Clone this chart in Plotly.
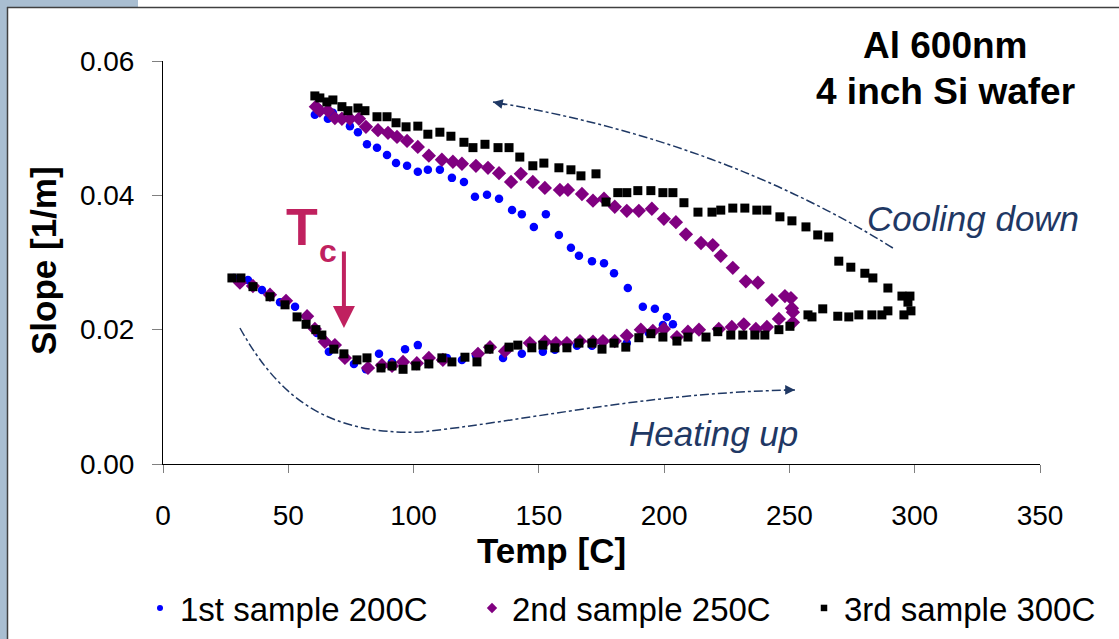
import plotly.graph_objects as go

# ---------------- data ----------------
s1_temp = [28.3, 33.9, 39.5, 46.7, 52.7, 61.4, 66.2, 72.2, 76.2, 81.0, 86.2, 91.4, 96.6, 101.7, 106.1,
           113.3, 119.3, 124.9, 135.7, 143.2, 151.6, 156.4, 165.2, 171.2, 175.2, 185.1, 193.9, 199.5,
           203.5, 201.1, 196.3, 191.5, 185.5, 180.0, 176.0, 171.2, 166.0, 162.8, 158.0, 152.8, 148.0,
           143.2, 139.3, 134.1, 129.3, 124.5, 120.1, 115.3, 110.5, 105.7, 101.7, 97.4, 93.0, 89.4,
           85.4, 81.4, 77.8, 74.6, 67.8, 65.8, 60.6]
s1_slope = [0.0277, 0.0274, 0.0259, 0.0241, 0.0234, 0.0195, 0.0167, 0.0159, 0.0149, 0.0141, 0.0164,
            0.0152, 0.0171, 0.0177, 0.0149, 0.0158, 0.0155, 0.0162, 0.0158, 0.0164, 0.0167, 0.0170,
            0.0176, 0.0176, 0.0182, 0.0180, 0.0195, 0.0207, 0.0208, 0.0219, 0.0231, 0.0234, 0.0262,
            0.0284, 0.0299, 0.0302, 0.0310, 0.0322, 0.0341, 0.0372, 0.0353, 0.0372, 0.0378, 0.0395,
            0.0401, 0.0398, 0.0420, 0.0426, 0.0438, 0.0438, 0.0435, 0.0444, 0.0448, 0.0460, 0.0471,
            0.0476, 0.0494, 0.0503, 0.0523, 0.0514, 0.0520]

s2_temp = [30.7, 35.9, 42.7, 49.1, 57.5, 60.6, 64.6, 68.6, 72.6, 81.8, 87.4, 91.4, 95.8, 101.3, 106.1,
           111.7, 125.7, 130.5, 136.5, 146.4, 152.4, 156.8, 161.2, 166.4, 171.6, 175.6, 180.3, 185.1,
           190.7, 195.5, 199.9, 205.1, 209.5, 213.9, 221.8, 227.0, 231.8, 236.6, 241.0, 245.8, 251.4,
           251.4, 251.0, 250.6, 248.2, 243.0, 237.4, 232.6, 227.4, 222.6, 219.4, 214.7, 208.7, 204.7,
           199.9, 195.1, 189.9, 185.1, 180.3, 176.0, 171.6, 167.2, 161.6, 158.4, 152.4, 147.6, 142.8,
           138.9, 134.1, 129.7, 124.9, 119.3, 115.7, 111.3, 106.1, 101.7, 97.4, 93.4, 89.8, 85.8,
           81.0, 78.2, 74.6, 71.4, 68.6, 65.8, 62.6, 61.0]
s2_slope = [0.0270, 0.0265, 0.0252, 0.0243, 0.0220, 0.0201, 0.0182, 0.0177, 0.0158, 0.0143, 0.0147,
            0.0146, 0.0152, 0.0150, 0.0158, 0.0155, 0.0164, 0.0174, 0.0168, 0.0180, 0.0182, 0.0180,
            0.0180, 0.0183, 0.0182, 0.0183, 0.0183, 0.0191, 0.0200, 0.0198, 0.0201, 0.0189, 0.0197,
            0.0200, 0.0201, 0.0204, 0.0208, 0.0201, 0.0204, 0.0216, 0.0226, 0.0211, 0.0232, 0.0247,
            0.0250, 0.0244, 0.0270, 0.0272, 0.0292, 0.0310, 0.0326, 0.0329, 0.0342, 0.0360, 0.0365,
            0.0380, 0.0377, 0.0377, 0.0383, 0.0395, 0.0392, 0.0402, 0.0408, 0.0408, 0.0411, 0.0420,
            0.0432, 0.0420, 0.0433, 0.0441, 0.0444, 0.0447, 0.0450, 0.0453, 0.0459, 0.0472, 0.0481,
            0.0487, 0.0493, 0.0497, 0.0502, 0.0514, 0.0514, 0.0514, 0.0515, 0.0526, 0.0526, 0.0532]

s3_temp = [27.5, 31.1, 35.9, 42.7, 48.7, 53.5, 57.1, 61.0, 63.4, 68.2, 72.2, 77.4, 81.4, 87.0, 91.4,
           95.8, 100.9, 106.1, 111.3, 115.3, 120.5, 125.3, 130.1, 138.1, 141.6, 147.2, 151.6, 156.4,
           161.2, 166.0, 171.2, 175.2, 180.0, 184.7, 189.9, 194.7, 199.5, 205.1, 209.5, 216.7, 221.4,
           226.6, 231.4, 236.2, 240.2, 245.8, 250.2, 257.4, 259.0, 263.3, 269.3, 273.7, 277.7, 282.9,
           286.9, 289.3, 295.7, 298.5,
           297.3, 298.1, 294.9, 289.3, 283.3, 280.1, 274.5, 269.7, 265.7, 261.3, 256.6, 251.0, 246.2,
           241.0, 237.0, 232.2, 227.4, 222.6, 219.1, 213.5, 207.9, 203.5, 199.5, 194.7, 189.5, 185.1,
           181.5, 176.8, 172.8, 166.8, 162.8, 158.0, 152.0, 147.6, 142.4, 138.1, 133.7, 128.5, 123.7,
           120.1, 114.9, 110.5, 105.7, 101.7, 97.0, 93.0, 89.4, 85.4, 80.6, 77.8, 73.8, 71.4, 67.8,
           65.4, 62.6, 60.6]
s3_slope = [0.0277, 0.0277, 0.0264, 0.0249, 0.0237, 0.0219, 0.0208, 0.0200, 0.0192, 0.0171, 0.0164,
            0.0155, 0.0158, 0.0143, 0.0146, 0.0141, 0.0146, 0.0149, 0.0158, 0.0152, 0.0159, 0.0152,
            0.0171, 0.0174, 0.0177, 0.0173, 0.0177, 0.0173, 0.0173, 0.0180, 0.0180, 0.0171, 0.0180,
            0.0174, 0.0188, 0.0194, 0.0189, 0.0183, 0.0189, 0.0189, 0.0197, 0.0192, 0.0192, 0.0192,
            0.0192, 0.0200, 0.0205, 0.0222, 0.0219, 0.0231, 0.0220, 0.0219, 0.0222, 0.0222, 0.0222,
            0.0228, 0.0222, 0.0228,
            0.0241, 0.0250, 0.0250, 0.0262, 0.0277, 0.0284, 0.0293, 0.0302, 0.0338, 0.0341, 0.0353,
            0.0362, 0.0368, 0.0378, 0.0378, 0.0381, 0.0381, 0.0378, 0.0375, 0.0375, 0.0389, 0.0404,
            0.0404, 0.0407, 0.0407, 0.0404, 0.0404, 0.0390, 0.0432, 0.0429, 0.0438, 0.0441, 0.0448,
            0.0444, 0.0457, 0.0471, 0.0471, 0.0476, 0.0471, 0.0479, 0.0488, 0.0494, 0.0491, 0.0503,
            0.0502, 0.0508, 0.0517, 0.0517, 0.0526, 0.0530, 0.0526, 0.0532, 0.0542, 0.0539, 0.0545,
            0.0548]

series_names = ["1st sample 200C", "2nd sample 250C", "3rd sample 300C"]
x_ticks = [0, 50, 100, 150, 200, 250, 300, 350]
y_ticks = [0.00, 0.02, 0.04, 0.06]
y_tick_labels = ["0.00", "0.02", "0.04", "0.06"]

# ---------------- figure ----------------
W, H = 1119, 639
ML, MR, MT, MB = 163, 79, 61, 175
PW, PH = W - ML - MR, H - MT - MB
FONT = "Liberation Sans, Arial, sans-serif"
NAVY = "#1F3864"
CRIMSON = "#C0215F"


def px(x):
    return (x - ML) / PW


def py(y):
    return (H - MB - y) / PH


series_styles = [
    dict(symbol="circle", size=8.5, color="#0000FF", legend_size=6),
    dict(symbol="diamond", size=11, color="#800080", legend_size=8),
    dict(symbol="square", size=9, color="#000000", legend_size=6.5),
]
series_data = [(s1_temp, s1_slope), (s2_temp, s2_slope), (s3_temp, s3_slope)]

fig = go.Figure()
for name, (xs, ys), st in zip(series_names, series_data, series_styles):
    fig.add_trace(go.Scatter(x=xs, y=ys, mode="markers", name=name, showlegend=False,
                             legendgroup=name,
                             marker=dict(symbol=st["symbol"], size=st["size"], color=st["color"])))
# legend-only entries with the small legend symbols of the original
for name, st in zip(series_names, series_styles):
    fig.add_trace(go.Scatter(x=[None], y=[None], mode="markers", name=name, legendgroup=name,
                             marker=dict(symbol=st["symbol"], size=st["legend_size"],
                                         color=st["color"])))

shapes = [
    # frame decoration
    dict(type="rect", xref="paper", yref="paper", x0=px(0), x1=px(7), y0=py(0), y1=py(H),
         fillcolor="#A9BED1", line=dict(width=0), layer="below"),
    dict(type="rect", xref="paper", yref="paper", x0=px(0), x1=px(138), y0=py(0), y1=py(7),
         fillcolor="#A9BED1", line=dict(width=0), layer="below"),
    dict(type="line", xref="paper", yref="paper", x0=px(7.5), x1=px(7.5), y0=py(7), y1=py(H),
         line=dict(color="#404040", width=1.5)),
    dict(type="line", xref="paper", yref="paper", x0=px(7), x1=px(W), y0=py(7.5), y1=py(7.5),
         line=dict(color="#404040", width=1.5)),
    # cooling guide
    dict(type="path", xref="x", yref="y",
         path="M 291.3,0.03216 Q 222.3,0.04824 131.7,0.0539",
         line=dict(color=NAVY, width=1.5, dash="dashdot")),
    # heating guide
    dict(type="path", xref="x", yref="y",
         path="M 30.7,0.02025 C 46.7,0.00953 66.6,0.00432 102.6,0.00476 C 142.5,0.00625 194.3,0.01072 252.2,0.01102",
         line=dict(color=NAVY, width=1.5, dash="dashdot")),
]

annotations = [
    dict(x=px(945), y=py(45), xref="paper", yref="paper", text="<b>Al 600nm</b>", showarrow=False,
         font=dict(family=FONT, size=37, color="black"), xanchor="center", yanchor="middle"),
    dict(x=px(945), y=py(92), xref="paper", yref="paper", text="<b>4 inch Si wafer</b>", showarrow=False,
         font=dict(family=FONT, size=37, color="black"), xanchor="center", yanchor="middle"),
    dict(x=px(973), y=py(218), xref="paper", yref="paper", text="<i>Cooling down</i>", showarrow=False,
         font=dict(family=FONT, size=35, color=NAVY), xanchor="center", yanchor="middle"),
    dict(x=px(713), y=py(433), xref="paper", yref="paper", text="<i>Heating up</i>", showarrow=False,
         font=dict(family=FONT, size=35, color=NAVY), xanchor="center", yanchor="middle"),
    dict(x=px(302), y=py(227), xref="paper", yref="paper", text="<b>T</b>", showarrow=False,
         font=dict(family=FONT, size=52, color=CRIMSON), xanchor="center", yanchor="middle"),
    dict(x=px(328), y=py(251), xref="paper", yref="paper", text="<b>c</b>", showarrow=False,
         font=dict(family=FONT, size=32, color=CRIMSON), xanchor="center", yanchor="middle"),
    # axis titles
    dict(x=px(551), y=py(550), xref="paper", yref="paper", text="<b>Temp [C]</b>", showarrow=False,
         font=dict(family=FONT, size=35, color="black"), xanchor="center", yanchor="middle"),
    dict(x=px(43), y=py(261), xref="paper", yref="paper", text="<b>Slope [1/m]</b>", showarrow=False,
         textangle=-90, font=dict(family=FONT, size=35, color="black"),
         xanchor="center", yanchor="middle"),
    # Tc arrow
    dict(x=72.2, y=0.02025, xref="x", yref="y", ax=0, ay=-78, text="", showarrow=True,
         arrowhead=2, arrowsize=1.1, arrowwidth=4, arrowcolor=CRIMSON),
    # guide arrow heads
    dict(x=131.7, y=0.0539, xref="x", yref="y", ax=14, ay=3, text="", showarrow=True,
         arrowhead=2, arrowsize=1.3, arrowwidth=1.5, arrowcolor=NAVY),
    dict(x=252.2, y=0.01102, xref="x", yref="y", ax=-12, ay=0, text="", showarrow=True,
         arrowhead=2, arrowsize=1.3, arrowwidth=1.5, arrowcolor=NAVY),
]

fig.update_layout(
    width=W, height=H,
    margin=dict(l=ML, r=MR, t=MT, b=MB, pad=0, autoexpand=False),
    paper_bgcolor="white", plot_bgcolor="white",
    font=dict(family=FONT, color="black"),
    shapes=shapes, annotations=annotations,
    showlegend=True,
    legend=dict(orientation="h", x=px(140), xanchor="left", y=py(608), yanchor="middle",
                font=dict(family=FONT, size=33, color="black"), itemsizing="trace",
                entrywidth=287, entrywidthmode="pixels", itemwidth=30,
                bgcolor="rgba(0,0,0,0)"),
)
fig.update_xaxes(range=[0, 350], tickvals=x_ticks, ticktext=[str(v) for v in x_ticks],
                 showgrid=False, zeroline=False, showline=True, linecolor="#000000", linewidth=1,
                 ticks="outside", ticklen=8, tickcolor="#808080", tickwidth=1,
                 tickfont=dict(family=FONT, size=28, color="black"), ticklabelstandoff=18)
fig.update_yaxes(range=[0, 0.06], tickvals=y_ticks, ticktext=y_tick_labels,
                 showgrid=False, zeroline=False, showline=True, linecolor="#000000", linewidth=1,
                 ticks="outside", ticklen=10, tickcolor="#808080", tickwidth=1,
                 tickfont=dict(family=FONT, size=28, color="black"), ticklabelstandoff=12)

fig.write_html("out.html")
